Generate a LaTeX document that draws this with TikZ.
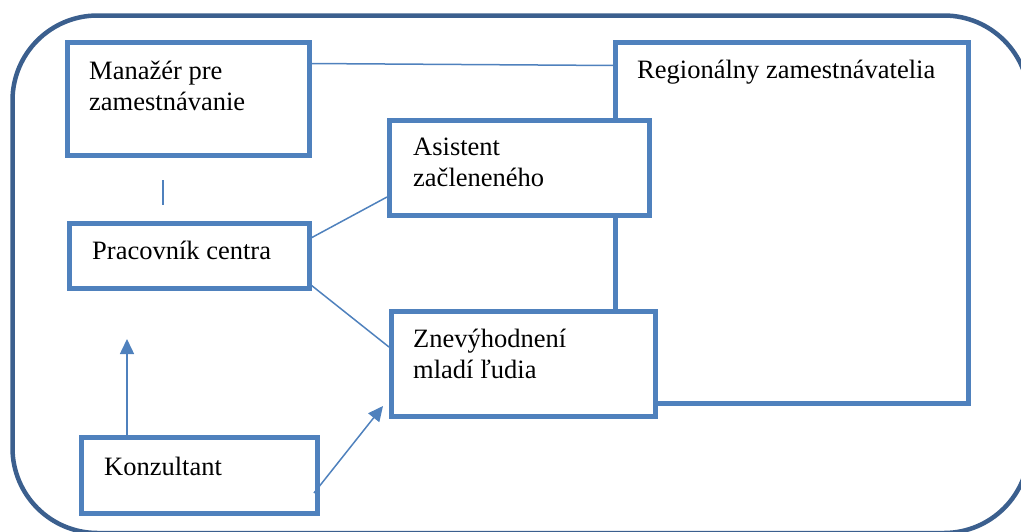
\documentclass[tikz,border=0pt]{standalone}
\usepackage{fontspec}
\setmainfont{Liberation Serif}
\usetikzlibrary{arrows.meta,calc}
\definecolor{boxblue}{HTML}{4F81BD}
\definecolor{outerblue}{HTML}{3B5F8E}
\begin{document}
\begin{tikzpicture}[x=1pt,y=-1pt,
  box/.style={draw=boxblue,line width=5pt,fill=white,rectangle,inner sep=0pt,outer sep=0pt},
  txt/.style={anchor=base west,inner sep=0pt,align=left,font=\fontsize{26.5}{31}\selectfont},
  conn/.style={draw=boxblue,line width=1.5pt},
  arr/.style={conn,-{Triangle[length=15pt,width=14pt]}}]
\useasboundingbox (0,0) rectangle (1021,531);
\draw[outerblue,line width=4.5pt,rounded corners=85pt] (12.5,15.5) rectangle (1029,533);
% boxes
\node[box,minimum width=353pt,minimum height=361pt] (reg) at (791.5,222.5) {};
\node[box,minimum width=241.5pt,minimum height=113pt] (man) at (188.25,99) {};
\draw[conn] ($(man.north east)+(0,21)$) -- ($(reg.north west)+(0,23.5)$);
\node[box,minimum width=260pt,minimum height=95pt] (asi) at (519,167.5) {};
\node[box,minimum width=264pt,minimum height=105pt] (zne) at (523,363.5) {};
\node[box,minimum width=240pt,minimum height=65pt] (pra) at (189,255.5) {};
\node[box,minimum width=236pt,minimum height=76pt] (kon) at (199,475) {};
% texts (base = last line)
\node[txt] (tman) at (89,110.5) {Manažér pre\\zamestnávanie};
\node[txt] (treg) at (637,78) {Regionálny zamestnávatelia};
\node[txt] (tasi) at (413,186) {Asistent\\začleneného};
\node[txt] (tpra) at (92,259) {Pracovník centra};
\node[txt] (tzne) at (413,378) {Znevýhodnení\\mladí ľudia};
\node[txt] (tkon) at (104,475) {Konzultant};
% connectors
\coordinate (s1) at (163,180);
\coordinate (s2) at (163,205);
\draw[conn] (s1) -- (s2);
\draw[conn] ($(pra.north east)+(2,15)$) -- ($(asi.north west)+(-2,77)$);
\draw[conn] ($(pra.south east)+(2,-3)$) -- ($(zne.north west)+(-2,36)$);
\coordinate (up) at (127,339);
\draw[arr] (kon.north -| up) -- (up);
\coordinate (zt) at (383,406);
\draw[arr] ($(kon.south east)+(-3,-20)$) -- (zt);
\end{tikzpicture}
\end{document}
